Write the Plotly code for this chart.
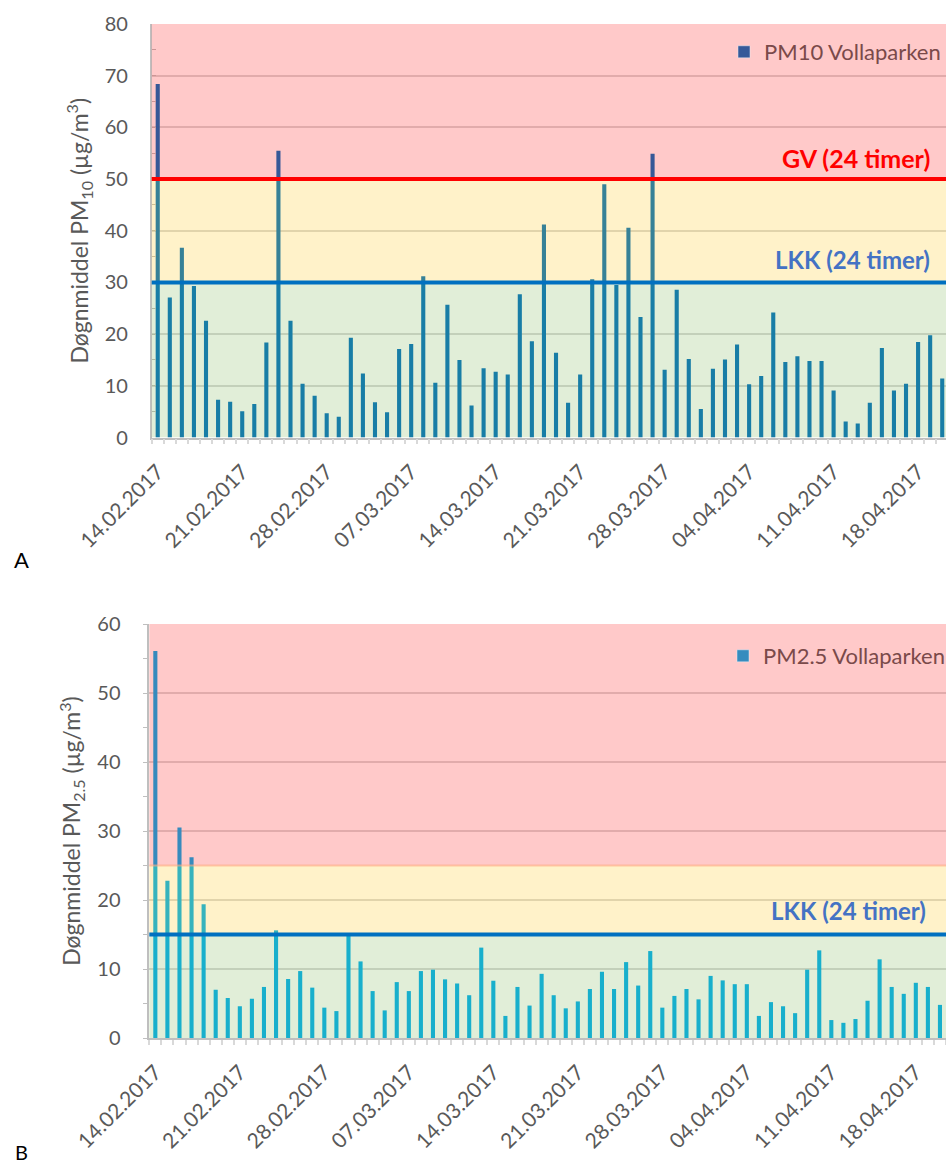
import pandas as pd
import plotly.graph_objects as go

START = "2017-02-14"
N_DAYS = 66
dates = pd.date_range(START, periods=N_DAYS, freq="D")

pm10 = [68.4, 27.1, 36.7, 29.3, 22.6, 7.3, 6.9, 5.1, 6.5, 18.4, 55.5, 22.6, 10.4, 8.1, 4.7, 4.0,
        19.3, 12.4, 6.8, 4.9, 17.1, 18.1, 31.2, 10.6, 25.7, 15.0, 6.2, 13.4, 12.7, 12.2, 27.7, 18.6,
        41.2, 16.4, 6.7, 12.2, 30.6, 49.0, 29.5, 40.6, 23.3, 54.9, 13.1, 28.6, 15.2, 5.5, 13.3, 15.1,
        18.0, 10.3, 11.9, 24.2, 14.6, 15.7, 14.8, 14.8, 9.1, 3.1, 2.7, 6.7, 17.3, 9.1, 10.4, 18.5,
        19.8, 11.4]
pm25 = [56.1, 22.8, 30.5, 26.2, 19.4, 7.0, 5.8, 4.6, 5.7, 7.4, 15.6, 8.55, 9.7, 7.3, 4.4, 3.9,
        15.1, 11.1, 6.8, 4.0, 8.1, 6.8, 9.7, 9.9, 8.5, 7.9, 6.2, 13.1, 8.3, 3.2, 7.4, 4.7,
        9.3, 6.2, 4.3, 5.3, 7.1, 9.6, 7.1, 11.0, 7.6, 12.6, 4.4, 6.1, 7.1, 5.6, 9.0, 8.35,
        7.8, 7.8, 3.2, 5.2, 4.6, 3.6, 9.9, 12.7, 2.6, 2.2, 2.75, 5.4, 11.4, 7.4, 6.4, 8.0,
        7.4, 4.8]

# limit values
pm10_gv, pm10_lkk, pm10_max = 50, 30, 80
pm25_upper, pm25_lkk, pm25_max = 25, 15, 60

FONT = "Lato"
GRAY = "#595959"
BAR10 = "#0070C0"
BAR25 = "#00B0F0"
RED_BAND = "rgba(255,0,0,0.21)"
YEL_BAND = "rgba(255,192,0,0.21)"
GRN_BAND = "rgba(112,173,71,0.21)"

fig = go.Figure()
fig.add_trace(go.Bar(x=dates, y=pm10, marker_color=BAR10, marker_line_width=0,
                     xaxis="x", yaxis="y", showlegend=False, name="PM10 Vollaparken"))
fig.add_trace(go.Bar(x=[None], y=[None], marker_color="rgb(54,90,153)", xaxis="x", yaxis="y",
                     name="PM10 Vollaparken", legend="legend"))
fig.add_trace(go.Bar(x=dates, y=pm25, marker_color=BAR25, marker_line_width=0,
                     xaxis="x2", yaxis="y2", showlegend=False, name="PM2.5 Vollaparken"))
fig.add_trace(go.Bar(x=[None], y=[None], marker_color="rgb(54,140,190)", xaxis="x2", yaxis="y2",
                     name="PM2.5 Vollaparken", legend="legend2"))

H, W = 1168, 946
def py(p):
    return 1 - p / H

xcommon = dict(type="date", tick0=START, dtick=7 * 86400000, tickformat="%d.%m.%Y",
               tickangle=-45, ticks="", showgrid=False, showline=True, linecolor="#BFBFBF",
               linewidth=1.5, tickfont=dict(family=FONT, size=21, color=GRAY),
               ticklabelstandoff=12,
               minor=dict(ticks="outside", tick0="2017-02-13 12:00", dtick=86400000,
                          ticklen=5, tickcolor="#D9D9D9", tickwidth=1.5, showgrid=False),
               zeroline=False, fixedrange=True, automargin=False)
ycommon = dict(showgrid=True, gridcolor="#D9D9D9", gridwidth=1.5, dtick=10, showline=True,
               linecolor="#BFBFBF", linewidth=1.5, tickfont=dict(family=FONT, size=20, color=GRAY),
               ticklen=5, tickcolor="#BFBFBF", zeroline=False, automargin=False,
               ticklabelstandoff=18)

fig.update_layout(
    width=W, height=H, margin=dict(l=0, r=0, t=0, b=0, autoexpand=False),
    paper_bgcolor="white", plot_bgcolor="white", bargap=0.66,
    xaxis=dict(xcommon, domain=[151.7 / W, 1], anchor="y",
               range=["2017-02-13 12:00", "2017-04-20 07:30"]),
    yaxis=dict(ycommon, domain=[py(437.5), py(24)], range=[0, pm10_max], anchor="x",
               ticks="inside",
               minor=dict(ticks="inside", dtick=5, ticklen=5, tickcolor="#BFBFBF", showgrid=False),
               title=dict(text="Døgnmiddel PM<sub>10</sub> (µg/m<sup>3</sup>)", standoff=10,
                          font=dict(family=FONT, size=23, color=GRAY))),
    xaxis2=dict(xcommon, domain=[149.3 / W, 1], anchor="y2",
                range=["2017-02-13 12:00", "2017-04-20 12:00"]),
    yaxis2=dict(ycommon, domain=[py(1038), py(624)], range=[0, pm25_max], anchor="x2",
                ticks="outside",
                minor=dict(ticks="outside", dtick=5, ticklen=5, tickcolor="#BFBFBF", showgrid=False),
                title=dict(text="Døgnmiddel PM<sub>2.5</sub> (µg/m<sup>3</sup>)", standoff=10,
                           font=dict(family=FONT, size=23, color=GRAY))),
    legend=dict(x=946 / W, y=py(52), xanchor="right", yanchor="middle", bgcolor="rgba(0,0,0,0)",
                font=dict(family=FONT, size=22, color="#7A4A4A"), itemwidth=30),
    legend2=dict(x=950 / W, y=py(656), xanchor="right", yanchor="middle", bgcolor="rgba(0,0,0,0)",
                 font=dict(family=FONT, size=22, color="#7A4A4A"), itemwidth=30),
)

shapes = []
def band(xr, yr, y0, y1, color):
    shapes.append(dict(type="rect", xref=xr + " domain", yref=yr, x0=0, x1=1, y0=y0, y1=y1,
                       fillcolor=color, line=dict(width=0), layer="above"))
def hline(xr, yr, y, color, w):
    shapes.append(dict(type="line", xref=xr + " domain", yref=yr, x0=0, x1=1, y0=y, y1=y,
                       line=dict(color=color, width=w), layer="above"))

band("x", "y", 0, pm10_lkk, GRN_BAND)
band("x", "y", pm10_lkk, pm10_gv, YEL_BAND)
band("x", "y", pm10_gv, pm10_max, RED_BAND)
hline("x", "y", pm10_gv, "#FF0000", 4)
hline("x", "y", pm10_lkk, "#0070C0", 4)

band("x2", "y2", 0, pm25_lkk, GRN_BAND)
band("x2", "y2", pm25_lkk, pm25_upper, YEL_BAND)
band("x2", "y2", pm25_upper, pm25_max, RED_BAND)
hline("x2", "y2", pm25_upper, "rgba(255,170,130,0.6)", 2)
hline("x2", "y2", pm25_lkk, "#0070C0", 4)
fig.update_layout(shapes=shapes)

ann = [
    dict(text="<b>GV (24 timer)</b>", xref="paper", yref="y", x=932 / W, y=54.1,
         xanchor="right", yanchor="middle", showarrow=False,
         font=dict(family=FONT, size=25, color="#FF0000")),
    dict(text="<b>LKK (24 timer)</b>", xref="paper", yref="y", x=932 / W, y=34.4,
         xanchor="right", yanchor="middle", showarrow=False,
         font=dict(family=FONT, size=24, color="#4472C4")),
    dict(text="<b>LKK (24 timer)</b>", xref="paper", yref="y2", x=928 / W, y=18.55,
         xanchor="right", yanchor="middle", showarrow=False,
         font=dict(family=FONT, size=24, color="#4472C4")),
    dict(text="A", xref="paper", yref="paper", x=21 / W, y=py(560), xanchor="center",
         yanchor="middle", showarrow=False, font=dict(family=FONT, size=22, color="#000000")),
    dict(text="B", xref="paper", yref="paper", x=21 / W, y=py(1152), xanchor="center",
         yanchor="middle", showarrow=False, font=dict(family=FONT, size=20, color="#000000")),
]
fig.update_layout(annotations=ann)

fig.write_html("out.html")
